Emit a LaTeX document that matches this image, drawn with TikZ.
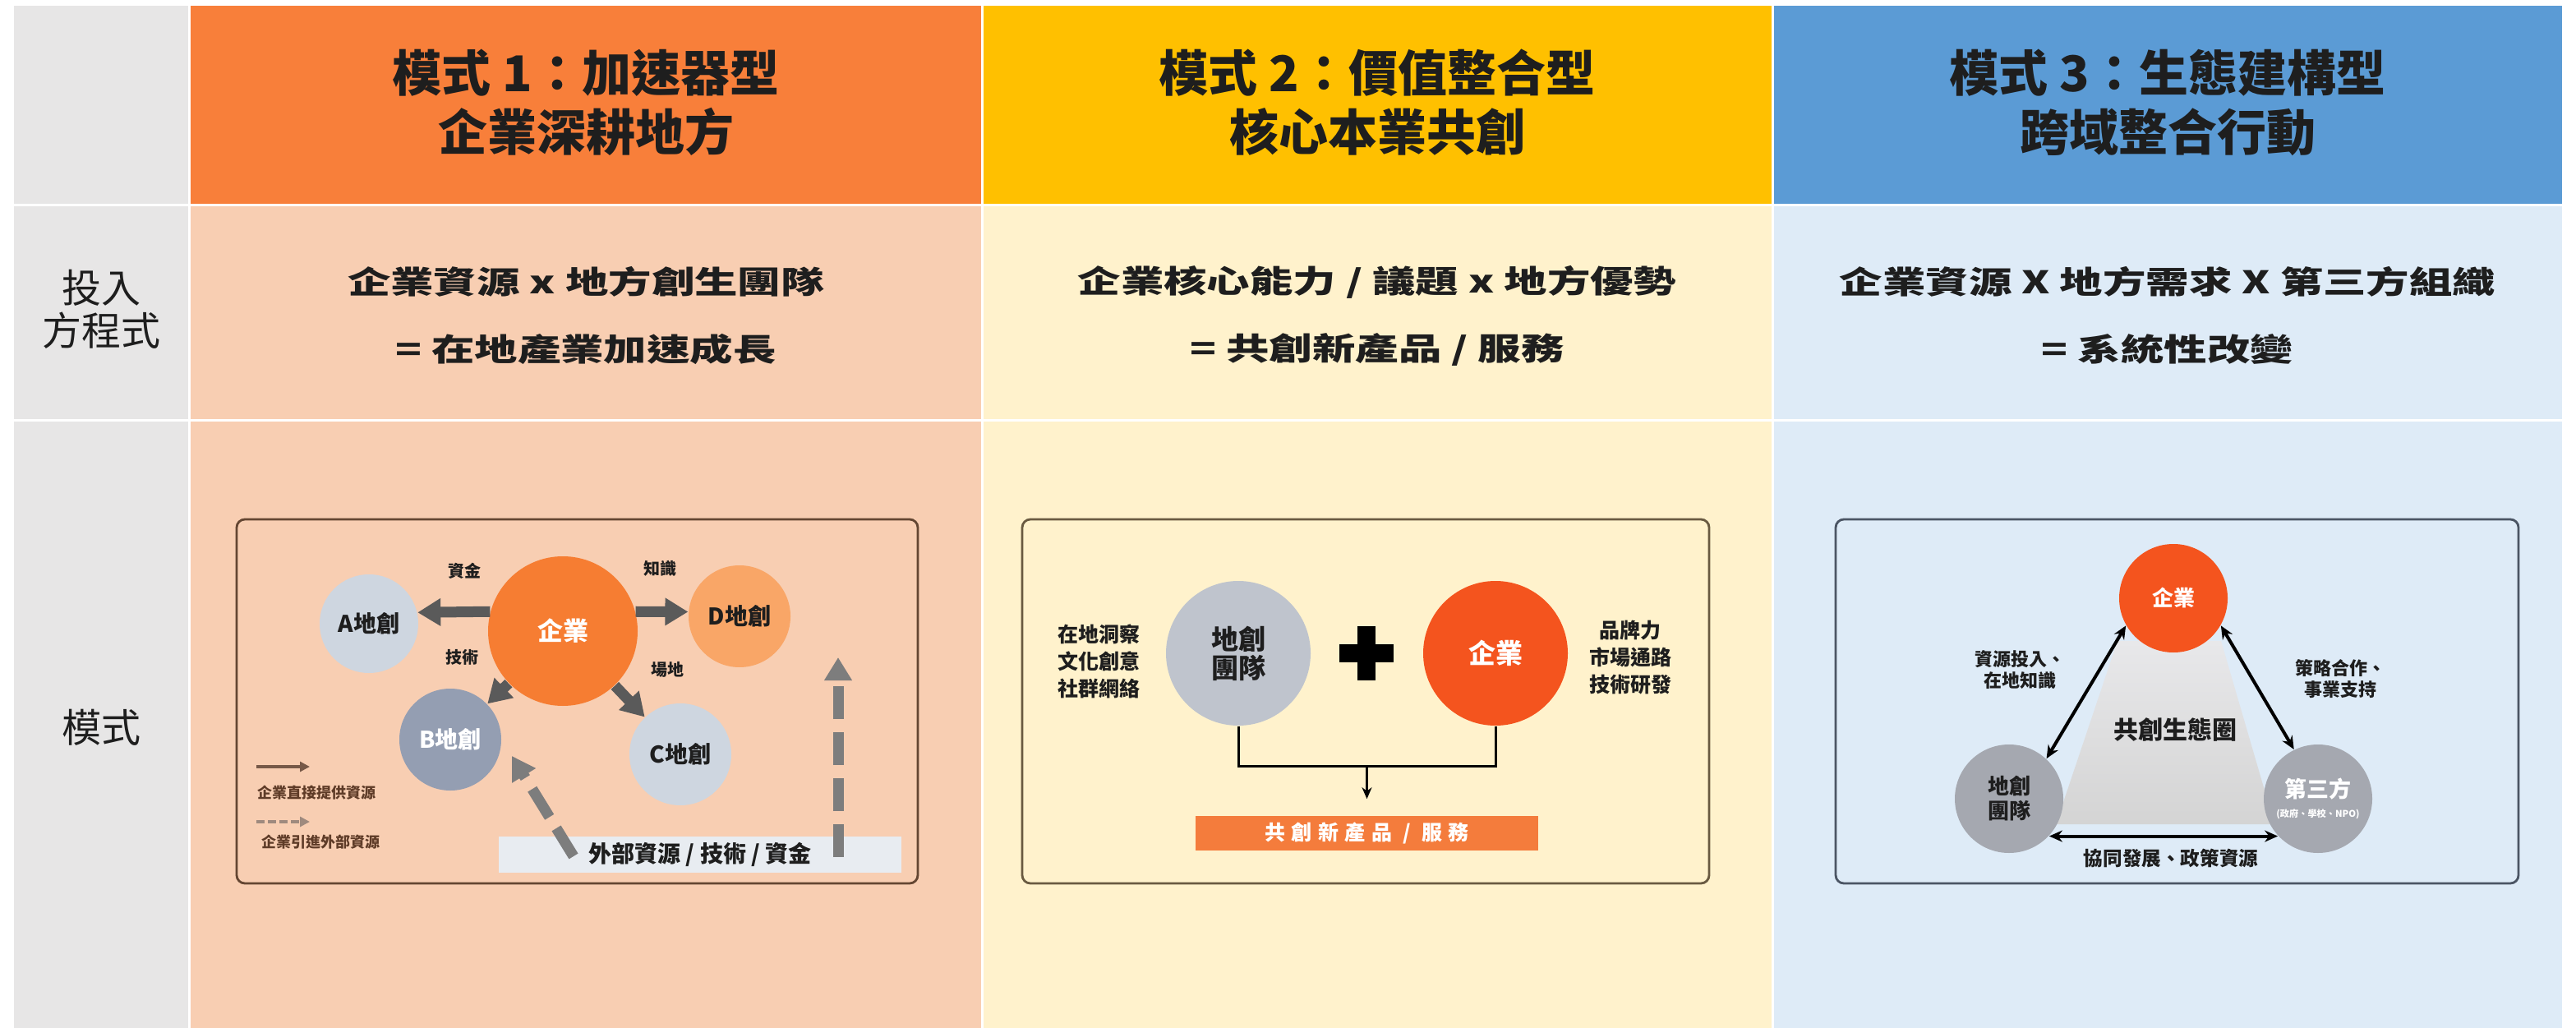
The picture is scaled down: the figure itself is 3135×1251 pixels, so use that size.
\documentclass[tikz,border=0pt]{standalone}
\usepackage{fontspec}
\setmainfont{Noto Sans CJK TC}
\newfontfamily\eqfont[FakeStretch=1.38]{Noto Sans CJK TC}
\newfontfamily\spfont[LetterSpace=30]{Noto Sans CJK TC}
\usetikzlibrary{arrows.meta,calc}

\definecolor{hdrA}{RGB}{248,127,58}
\definecolor{hdrB}{RGB}{255,192,0}
\definecolor{hdrC}{RGB}{91,155,213}
\definecolor{lightA}{RGB}{248,206,178}
\definecolor{lightB}{RGB}{255,242,204}
\definecolor{lightC}{RGB}{222,235,247}
\definecolor{sidegray}{RGB}{231,230,230}
\definecolor{entor}{RGB}{246,125,50}
\definecolor{redor}{RGB}{244,84,30}
\definecolor{paleblue}{RGB}{206,214,224}
\definecolor{slate}{RGB}{148,158,178}
\definecolor{softor}{RGB}{249,166,103}
\definecolor{arrowgray}{RGB}{90,90,90}
\definecolor{dashgray}{RGB}{125,125,125}
\definecolor{txt}{RGB}{30,30,30}
\definecolor{brownleg}{RGB}{95,60,40}
\definecolor{extfill}{RGB}{232,236,241}
\definecolor{teamgray}{RGB}{191,196,205}
\definecolor{midgray}{RGB}{165,168,176}
\definecolor{prodor}{RGB}{244,124,60}
\definecolor{frameA}{RGB}{100,70,50}
\definecolor{frameB}{RGB}{105,90,65}
\definecolor{frameC}{RGB}{75,85,100}

\begin{document}
\begin{tikzpicture}[x=0.25pt,y=-0.25pt,
  hdr/.style={font=\bfseries\fontsize{15}{18}\selectfont, text=txt, align=center, inner sep=0},
  side/.style={font=\fontsize{12}{13}\selectfont, text=txt, align=center, inner sep=0},
  eqn/.style={font=\eqfont\bfseries\fontsize{9.5}{20.5}\selectfont, text=txt, align=center, inner sep=0},
  bub/.style={circle, inner sep=0, minimum size=#1, align=center},
  bigarrow/.style={draw=arrowgray, line width=3.25pt, -{Triangle[width=8pt,length=7pt]}},
  dasharrow/.style={draw=dashgray, line width=3.25pt, dash pattern=on 10pt off 4pt, -{Triangle[width=8pt,length=7pt]}},
  lbl/.style={font=\bfseries\fontsize{5}{6}\selectfont, text=txt, inner sep=0},
  leg/.style={font=\bfseries\fontsize{4.5}{5.5}\selectfont, text=brownleg, inner sep=0},
  panelframe/.style={line width=0.7pt, rounded corners=2.5pt},
  thinblack/.style={draw=black, line width=0.75pt},
  dbl/.style={draw=black, line width=1pt, {Stealth[length=4pt,width=3.5pt]}-{Stealth[length=4pt,width=3.5pt]}},
  p2side/.style={font=\bfseries\fontsize{6.25}{8.25}\selectfont, text=txt, align=center, inner sep=0},
  p3lbl/.style={font=\bfseries\fontsize{5.5}{6.5}\selectfont, text=txt, align=center, inner sep=0}
]
\useasboundingbox (0,0) rectangle (3135,1251);
\fill[white] (0,0) rectangle (3135,1251);

% ---- table cells ----
\fill[sidegray] (17,7) rectangle (229,248);
\fill[sidegray] (17,251) rectangle (229,510);
\fill[sidegray] (17,513) rectangle (229,1251);
\fill[hdrA] (232,7) rectangle (1194,248);
\fill[hdrB] (1197,7) rectangle (2156,248);
\fill[hdrC] (2159,7) rectangle (3118,248);
\fill[lightA] (232,251) rectangle (1194,510);
\fill[lightB] (1197,251) rectangle (2156,510);
\fill[lightC] (2159,251) rectangle (3118,510);
\fill[lightA] (232,513) rectangle (1194,1251);
\fill[lightB] (1197,513) rectangle (2156,1251);
\fill[lightC] (2159,513) rectangle (3118,1251);

% ---- headers ----
\node[hdr] (h1) at (713,125) {模式 1：加速器型\\企業深耕地方};
\node[hdr] (h2) at (1676,125) {模式 2：價值整合型\\核心本業共創};
\node[hdr] (h3) at (2638,125) {模式 3：生態建構型\\跨域整合行動};

% ---- side labels ----
\node[side] (s1) at (123,376) {投入\\方程式};
\node[side] (s2) at (123,885) {模式};

% ---- equations ----
\node[eqn] (e1) at (713,384) {企業資源 x 地方創生團隊\\= 在地產業加速成長};
\node[eqn] (e2) at (1676,384) {企業核心能力 / 議題 x 地方優勢\\= 共創新產品 / 服務};
\node[eqn] (e3) at (2638,384) {企業資源 X 地方需求 X 第三方組織\\= 系統性改變};

% ---- panel 1 ----
\draw[panelframe, draw=frameA] (288,632) rectangle (1117,1075);
\node[bub=45.5pt, fill=entor, text=white, font=\bfseries\fontsize{7.75}{9}\selectfont] (E1) at (685,768) {企業};
\node[bub=30pt, fill=paleblue, text=txt, font=\bfseries\fontsize{7}{8}\selectfont] (A1) at (449,759) {A地創};
\node[bub=31pt, fill=slate, text=white, font=\bfseries\fontsize{7}{8}\selectfont] (B1) at (548,900) {B地創};
\node[bub=31pt, fill=paleblue, text=txt, font=\bfseries\fontsize{7}{8}\selectfont] (C1) at (828,918) {C地創};
\node[bub=31pt, fill=softor, text=txt, font=\bfseries\fontsize{7}{8}\selectfont] (D1) at (900,750) {D地創};
\draw[bigarrow] (E1.165) -- (A1.13);
\draw[bigarrow] (E1.15) -- (D1.175);
\draw[bigarrow] (E1) -- (B1);
\draw[bigarrow] (E1) -- (C1);
\node[lbl] (l1) at (565,695) {資金};
\node[lbl] (l2) at (803,692) {知識};
\node[lbl] (l3) at (562,800) {技術};
\node[lbl] (l4) at (812,815) {場地};
\node[fill=extfill, minimum width=122.5pt, minimum height=11pt, inner sep=0, text=txt, font=\bfseries\fontsize{7}{8}\selectfont] (ext) at (852,1040) {外部資源 / 技術 / 資金};
\coordinate (x1) at (698,1042);
\coordinate (x1t) at (623,920);
\draw[dasharrow] (x1) -- (x1t);
\coordinate (x2) at (1020,1043);
\coordinate (x2t) at (1020,800);
\draw[dasharrow] (x2) -- (x2t);
\coordinate (lg1a) at (312,933);
\coordinate (lg1b) at (377,933);
\draw[draw=brownleg!85, line width=0.8pt, -{Triangle[width=3pt,length=3pt]}] (lg1a) -- (lg1b);
\node[leg] (lt1) at (385,965) {企業直接提供資源};
\coordinate (lg2a) at (312,1000);
\coordinate (lg2b) at (377,1000);
\draw[draw=brownleg!60, line width=0.8pt, dash pattern=on 2.5pt off 1pt, -{Triangle[width=3pt,length=3pt]}] (lg2a) -- (lg2b);
\node[leg] (lt2) at (390,1025) {企業引進外部資源};

% ---- panel 2 ----
\draw[panelframe, draw=frameB] (1244,632) rectangle (2080,1075);
\node[bub=44pt, fill=teamgray, text=txt, font=\bfseries\fontsize{8.25}{8.75}\selectfont] (T2) at (1507,795) {地創\\團隊};
\node[bub=44pt, fill=redor, text=white, font=\bfseries\fontsize{8.25}{8.75}\selectfont] (E2) at (1820,795) {企業};
\fill[black] (1630,784) rectangle (1696,806);
\fill[black] (1652,762) rectangle (1674,828);
\node[p2side] (s2l) at (1337,805) {在地洞察\\文化創意\\社群網絡};
\node[p2side] (s2r) at (1984,800) {品牌力\\市場通路\\技術研發};
\draw[thinblack] (T2.south) -- ++(0,49) -| (E2.south);
\coordinate (j2) at (1663.5,932);
\node[fill=prodor, minimum width=104.25pt, minimum height=10.5pt, inner sep=0, text=white, font=\spfont\bfseries\fontsize{6.25}{7}\selectfont] (P2) at (1663.5,1014) {共創新產品 / 服務};
\draw[thinblack, shorten >=5pt, -{Stealth[length=3.5pt,width=3pt]}] (j2) -- (P2.north);

% ---- panel 3 ----
\draw[panelframe, draw=frameC] (2234,632) rectangle (3065,1075);
\shade[top color={rgb,255:red,232;green,232;blue,234}, bottom color={rgb,255:red,212;green,212;blue,212}] (2577,780) -- (2703,780) -- (2768,1003) -- (2502,1003) -- cycle;
\node[bub=33pt, fill=redor, text=white, font=\bfseries\fontsize{6.5}{7.5}\selectfont] (E3) at (2645,728) {企業};
\node[bub=33pt, fill=midgray, text=txt, font=\bfseries\fontsize{6.5}{7.5}\selectfont] (T3) at (2445,972) {地創\\團隊};
\node[bub=33pt, fill=midgray, text=white, font=\bfseries\fontsize{6.75}{7.5}\selectfont] (P3) at (2821,972) {第三方\\[-1.5pt]{\fontsize{2.8}{3.5}\selectfont (政府、學校、NPO)}};
\draw[dbl] (E3.210) -- (T3.47);
\draw[dbl] (E3.-30) -- (P3.116);
\draw[dbl] (T3.-43) -- (P3.223);
\node[p3lbl] (q1) at (2458,815) {資源投入、\\在地知識};
\node[p3lbl] (q2) at (2848,826) {策略合作、\\事業支持};
\node[font=\bfseries\fontsize{7.5}{8.5}\selectfont, text=txt, inner sep=0] (q3) at (2647,888) {共創生態圈};
\node[font=\bfseries\fontsize{5.9}{7}\selectfont, text=txt, inner sep=0] (q4) at (2642,1045) {協同發展、政策資源};
\end{tikzpicture}
\end{document}
